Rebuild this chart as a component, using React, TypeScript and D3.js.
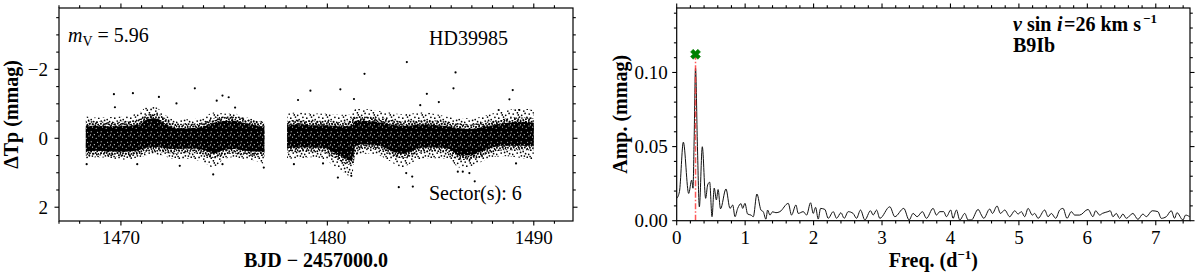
import React from 'react';
import * as d3 from 'd3';

// ---------- Light curve (left panel) ----------
// envelope of the dense point cloud, segment 1 (BJD-2457000)
const seg1T = [1468.3, 1468.8, 1469.5, 1470.2, 1470.9, 1471.3, 1471.7, 1472.1, 1472.6, 1473.3, 1474.0, 1474.5, 1475.0, 1475.5, 1476.0, 1476.5, 1476.95];
const coreUp1 = [-0.36, -0.36, -0.34, -0.36, -0.40, -0.56, -0.58, -0.44, -0.30, -0.29, -0.34, -0.45, -0.50, -0.50, -0.44, -0.38, -0.34];
const coreLo1 = [0.38, 0.36, 0.38, 0.39, 0.34, 0.27, 0.25, 0.29, 0.31, 0.30, 0.34, 0.44, 0.34, 0.31, 0.36, 0.38, 0.40];
const outerUp1 = [-0.65, -0.60, -0.62, -0.65, -0.75, -0.92, -0.90, -0.70, -0.55, -0.55, -0.62, -0.75, -0.72, -0.72, -0.62, -0.55, -0.48];
const outerLo1 = [0.60, 0.55, 0.58, 0.62, 0.55, 0.50, 0.48, 0.52, 0.60, 0.60, 0.70, 0.85, 0.60, 0.55, 0.60, 0.65, 0.75];

// segment 2
const seg2T = [1478.05, 1478.6, 1479.3, 1479.9, 1480.3, 1480.7, 1481.0, 1481.2, 1481.35, 1481.8, 1482.4, 1483.0, 1483.6, 1484.1, 1484.7, 1485.3, 1485.9, 1486.4, 1486.9, 1487.4, 1488.0, 1488.6, 1489.2, 1489.7, 1490.0];
const coreUp2 = [-0.38, -0.41, -0.38, -0.38, -0.36, -0.34, -0.36, -0.38, -0.50, -0.50, -0.47, -0.41, -0.36, -0.38, -0.41, -0.38, -0.34, -0.29, -0.27, -0.31, -0.38, -0.44, -0.47, -0.47, -0.45];
const coreLo2 = [0.29, 0.27, 0.27, 0.29, 0.40, 0.54, 0.63, 0.65, 0.22, 0.18, 0.20, 0.34, 0.45, 0.36, 0.27, 0.27, 0.31, 0.50, 0.50, 0.40, 0.27, 0.22, 0.22, 0.22, 0.22];
const outerUp2 = [-0.72, -0.75, -0.72, -0.72, -0.70, -0.68, -0.70, -0.72, -0.85, -0.85, -0.80, -0.75, -0.70, -0.72, -0.75, -0.70, -0.62, -0.58, -0.58, -0.62, -0.72, -0.80, -0.85, -0.85, -0.80];
const outerLo2 = [0.60, 0.58, 0.55, 0.62, 0.80, 0.95, 1.08, 1.10, 0.50, 0.45, 0.48, 0.65, 0.85, 0.70, 0.58, 0.58, 0.62, 0.85, 0.85, 0.70, 0.55, 0.52, 0.55, 0.60, 0.60];

// isolated points
const outT = [1469.66, 1469.71, 1470.58, 1471.84, 1472.69, 1473.58, 1474.64, 1474.92, 1475.22, 1475.53, 1474.47, 1474.92, 1468.34, 1472.85, 1470.79, 1476.92, 1478.38, 1483.85, 1481.80, 1486.21, 1486.11, 1480.63, 1479.18, 1484.82, 1488.98, 1488.82, 1481.29, 1478.58, 1485.40, 1484.50, 1488.30, 1489.30, 1483.46, 1484.14, 1487.14, 1480.51, 1481.16, 1484.11, 1483.82, 1486.56, 1486.32, 1486.88, 1479.79, 1489.14];
const outM = [-1.28, -0.90, -1.31, -1.20, -1.01, -1.45, -1.09, -1.24, -1.19, -0.89, 1.05, 0.75, 0.75, 0.80, 0.75, 0.85, 0.75, -2.21, -1.87, -1.91, -1.45, -1.42, -1.38, -1.29, -1.40, -1.13, -1.14, -1.11, -1.05, -0.96, -0.82, -0.82, 1.42, 1.40, 1.25, 1.14, 1.09, 1.11, 1.01, 0.97, 0.97, 1.01, 0.73, 0.73];

const lcXTicks = [1470, 1480, 1490];
const lcYTicks = [-2, 0, 2];

// ---------- Periodogram (right panel) ----------
const freq = [0.000, 0.040, 0.097, 0.175, 0.219, 0.238, 0.253, 0.275, 0.303, 0.331,
  0.374, 0.423, 0.452, 0.482, 0.516, 0.548, 0.580, 0.605, 0.640, 0.720,
  0.779, 0.818, 0.852, 0.891, 0.940, 0.964, 0.997, 1.036, 1.085, 1.119,
  1.172, 1.231, 1.265, 1.304, 1.328, 1.362, 1.401, 1.450, 1.508, 1.630,
  1.678, 1.742, 1.776, 1.849, 1.898, 1.956, 1.995, 2.029, 2.068, 2.102,
  2.165, 2.214, 2.287, 2.336, 2.400, 2.447, 2.506, 2.578, 2.627, 2.686,
  2.749, 2.832, 2.871, 2.920, 2.968, 3.114, 3.187, 3.318, 3.396, 3.454,
  3.513, 3.590, 3.649, 3.746, 3.795, 3.844, 3.902, 3.941, 4.004, 4.038,
  4.087, 4.136, 4.209, 4.258, 4.306, 4.404, 4.452, 4.486, 4.574, 4.613,
  4.681, 4.730, 4.793, 4.866, 4.939, 4.988, 5.036, 5.085, 5.134, 5.197,
  5.231, 5.280, 5.377, 5.426, 5.474, 5.538, 5.596, 5.645, 5.703, 5.766,
  5.815, 5.888, 6.010, 6.082, 6.121, 6.180, 6.219, 6.301, 6.335, 6.374,
  6.423, 6.471, 6.520, 6.569, 6.666, 6.739, 6.812, 6.861, 6.948, 7.031,
  7.080, 7.153, 7.226, 7.275, 7.309, 7.397, 7.436, 7.494];
const amp = [0.0150, 0.0196, 0.0530, 0.0184, 0.0274, 0.0219, 0.0500, 0.1030, 0.0500, 0.0094,
  0.0499, 0.0151, 0.0241, 0.0260, 0.0027, 0.0220, 0.0140, 0.0210, 0.0080, 0.0214,
  0.0083, 0.0106, 0.0027, 0.0083, 0.0115, 0.0083, 0.0117, 0.0045, 0.0038, 0.0027,
  0.0180, 0.0072, 0.0060, 0.0010, 0.0072, 0.0038, 0.0060, 0.0054, 0.0061, 0.0117,
  0.0038, 0.0106, 0.0049, 0.0061, 0.0038, 0.0121, 0.0049, 0.0090, 0.0011, 0.0083,
  0.0076, 0.0016, 0.0061, 0.0016, 0.0054, 0.0016, 0.0061, 0.0049, 0.0016, 0.0072,
  0.0005, 0.0067, 0.0038, 0.0072, 0.0016, 0.0094, 0.0027, 0.0083, 0.0005, 0.0049,
  0.0027, 0.0061, 0.0016, 0.0083, 0.0038, 0.0061, 0.0061, 0.0027, 0.0072, 0.0016,
  0.0072, 0.0005, 0.0049, 0.0005, 0.0005, 0.0076, 0.0038, 0.0016, 0.0079, 0.0049,
  0.0099, 0.0049, 0.0072, 0.0027, 0.0067, 0.0045, 0.0061, 0.0027, 0.0083, 0.0038,
  0.0049, 0.0016, 0.0072, 0.0027, 0.0049, 0.0016, 0.0072, 0.0083, 0.0016, 0.0061,
  0.0038, 0.0038, 0.0076, 0.0027, 0.0067, 0.0038, 0.0049, 0.0061, 0.0067, 0.0027,
  0.0049, 0.0016, 0.0045, 0.0016, 0.0049, 0.0009, 0.0045, 0.0027, 0.0067, 0.0061,
  0.0016, 0.0027, 0.0067, 0.0016, 0.0054, 0.0005, 0.0038, 0.0027];
const peakFreq = 0.275;
const peakMarkerAmp = 0.1123;
const pgXTicks = [0, 1, 2, 3, 4, 5, 6, 7];
const pgYTicks = [0, 0.05, 0.10];

const FONT = "'Liberation Serif', 'DejaVu Serif', serif";

// texture (style only): dot positions inside pattern tiles
const sparseDots = [[1.2, 2.1], [5.4, 0.8], [9.7, 3.3], [13.1, 1.4], [2.8, 6.2], [7.5, 5.1], [11.2, 7.6], [14.9, 5.3], [0.7, 10.4], [5.2, 9.1], [9.4, 11.8], [13.6, 9.7], [3.3, 14.2], [7.1, 13.4], [11.8, 15.1], [15.3, 13.2], [6.3, 2.9], [12.4, 12.1], [2.1, 12.5], [8.6, 8.4]];
const midDots = [[0.8, 0.9], [3.6, 1.7], [6.4, 0.6], [9.1, 2.0], [1.9, 3.8], [5.0, 4.2], [7.8, 3.5], [10.6, 4.6], [0.5, 6.3], [3.2, 6.9], [6.1, 6.5], [9.3, 7.2], [2.0, 9.3], [4.9, 9.8], [7.7, 9.0], [10.5, 9.9], [1.2, 11.2], [8.9, 11.3]];
const coreSpecks = [[1.2, 1.8], [4.3, 4.6], [7.6, 2.2], [2.6, 7.1], [6.2, 8.3], [8.9, 6.0], [0.4, 4.9]];

export default function App() {
  const W = 1200, H = 277;
  const L = { x0: 59, x1: 573, y0: 8, y1: 221 };
  const R = { x0: 676.7, x1: 1190, y0: 8, y1: 220.7 };

  const xL = d3.scaleLinear().domain([1467, 1491.9]).range([L.x0, L.x1]);
  const yL = d3.scaleLinear().domain([-3.78, 2.4]).range([L.y0, L.y1]);
  const xR = d3.scaleLinear().domain([0, 7.5]).range([R.x0, R.x1]);
  const yR = d3.scaleLinear().domain([0, 0.1435]).range([R.y1, R.y0]);

  const band = (T: number[], up: number[], lo: number[]) =>
    d3.area<number>()
      .x((_, i) => xL(T[i]))
      .y0((_, i) => yL(lo[i]))
      .y1((_, i) => yL(up[i]))
      .curve(d3.curveMonotoneX)(T) || '';

  const pgLine = d3.line<number>()
    .x((_, i) => xR(freq[i]))
    .y((_, i) => yR(amp[i]))
    .curve(d3.curveMonotoneX)(freq) || '';

  const majorLen = 4.5, minorLen = 2.8;
  const sw = 1.1;

  const lcXMinor = d3.range(1467, 1492, 1).filter(v => !lcXTicks.includes(v));
  const lcYMinor = d3.range(-3.5, 2.01, 0.5).filter(v => !lcYTicks.some(t => Math.abs(t - v) < 1e-6));
  const pgXMinor = d3.range(0, 7.51, 0.2).filter(v => !pgXTicks.some(t => Math.abs(t - v) < 1e-6));
  const pgYMinor = d3.range(0, 0.1435, 0.01).filter(v => !pgYTicks.some(t => Math.abs(t - v) < 1e-6));

  const frameTicks = (
    B: { x0: number; x1: number; y0: number; y1: number },
    xs: (v: number) => number, xMaj: number[], xMin: number[],
    ys: (v: number) => number, yMaj: number[], yMin: number[], key: string
  ) => {
    const out: any[] = [];
    const add = (v: number, len: number, k: string) => {
      const x = xs(v);
      out.push(<line key={`${key}b${k}`} x1={x} x2={x} y1={B.y1} y2={B.y1 + len} stroke="#000" strokeWidth={sw} />);
      out.push(<line key={`${key}t${k}`} x1={x} x2={x} y1={B.y0} y2={B.y0 - len} stroke="#000" strokeWidth={sw} />);
    };
    const addY = (v: number, len: number, k: string) => {
      const y = ys(v);
      out.push(<line key={`${key}l${k}`} x1={B.x0} x2={B.x0 - len} y1={y} y2={y} stroke="#000" strokeWidth={sw} />);
      out.push(<line key={`${key}r${k}`} x1={B.x1} x2={B.x1 + len} y1={y} y2={y} stroke="#000" strokeWidth={sw} />);
    };
    xMaj.forEach((v, i) => add(v, majorLen, 'M' + i));
    xMin.forEach((v, i) => add(v, minorLen, 'm' + i));
    yMaj.forEach((v, i) => addY(v, majorLen, 'M' + i));
    yMin.forEach((v, i) => addY(v, minorLen, 'm' + i));
    return out;
  };

  // X-shaped filled marker (plus rotated 45 deg)
  const a = 5.2, b = 1.9;
  const plusPts = [[b, a], [b, b], [a, b], [a, -b], [b, -b], [b, -a], [-b, -a], [-b, -b], [-a, -b], [-a, b], [-b, b], [-b, a]];
  const markerPath = 'M' + plusPts.map(p => p.join(',')).join('L') + 'Z';

  const core1 = band(seg1T, coreUp1, coreLo1);
  const core2 = band(seg2T, coreUp2, coreLo2);

  return (
    <svg width={W} height={H} style={{ position: 'absolute', left: 0, top: 0, background: '#fff' }} fontFamily={FONT}>
      <defs>
        <pattern id="sparseDots" width="16" height="16" patternUnits="userSpaceOnUse">
          {sparseDots.map((p, i) => <circle key={i} cx={p[0]} cy={p[1]} r={0.85} fill="#000" />)}
        </pattern>
        <pattern id="midDots" width="11" height="12" patternUnits="userSpaceOnUse">
          {midDots.map((p, i) => <circle key={i} cx={p[0]} cy={p[1]} r={0.95} fill="#000" />)}
        </pattern>
        <pattern id="coreDots" width="10" height="10" patternUnits="userSpaceOnUse">
          <rect width="10" height="10" fill="#000" />
          {coreSpecks.map((p, i) => <circle key={i} cx={p[0]} cy={p[1]} r={0.55} fill="#fff" />)}
        </pattern>
        <clipPath id="clipR"><rect x={R.x0} y={R.y0} width={R.x1 - R.x0} height={R.y1 - R.y0} /></clipPath>
        <clipPath id="clipL"><rect x={L.x0} y={L.y0} width={L.x1 - L.x0} height={L.y1 - L.y0} /></clipPath>
        <clipPath id="clipSeg1"><path d={band(seg1T, outerUp1, outerLo1)} /></clipPath>
        <clipPath id="clipSeg2"><path d={band(seg2T, outerUp2, outerLo2)} /></clipPath>
      </defs>

      {/* ---------- Left panel ---------- */}
      <g clipPath="url(#clipL)">
        <path d={band(seg1T, outerUp1, outerLo1)} fill="url(#sparseDots)" />
        <path d={band(seg2T, outerUp2, outerLo2)} fill="url(#sparseDots)" />
        <g clipPath="url(#clipSeg1)">
          <path d={core1} fill="none" stroke="url(#midDots)" strokeWidth={9} strokeLinejoin="round" />
        </g>
        <g clipPath="url(#clipSeg2)">
          <path d={core2} fill="none" stroke="url(#midDots)" strokeWidth={9} strokeLinejoin="round" />
        </g>
        <path d={core1} fill="url(#coreDots)" />
        <path d={core2} fill="url(#coreDots)" />
        {outT.map((t, i) => <circle key={i} cx={xL(t)} cy={yL(outM[i])} r={1.1} fill="#000" />)}
      </g>
      <rect x={L.x0} y={L.y0} width={L.x1 - L.x0} height={L.y1 - L.y0} fill="none" stroke="#000" strokeWidth={1.2} />
      {frameTicks(L, xL, lcXTicks, lcXMinor, yL, lcYTicks, lcYMinor, 'L')}
      {lcXTicks.map(v => (
        <text key={'lx' + v} x={xL(v)} y={244} textAnchor="middle" fontSize={19}>{v}</text>
      ))}
      {lcYTicks.map(v => (
        <text key={'ly' + v} x={L.x0 - 11} y={yL(v)} dy="0.35em" textAnchor="end" fontSize={19}>{v < 0 ? '\u2212' + Math.abs(v) : String(v)}</text>
      ))}
      <text x={(L.x0 + L.x1) / 2} y={267} textAnchor="middle" fontSize={20} fontWeight="bold">BJD − 2457000.0</text>
      <text transform={`translate(18,${(L.y0 + L.y1) / 2}) rotate(-90)`} textAnchor="middle" fontSize={20} fontWeight="bold">ΔTp (mmag)</text>
      <text x={68} y={42} fontSize={20}>
        <tspan fontStyle="italic">m</tspan><tspan fontSize={14} dy={4}>V</tspan><tspan dy={-4}> = 5.96</tspan>
      </text>
      <text x={429} y={45} fontSize={20}>HD39985</text>
      <text x={429} y={200} fontSize={20}>Sector(s): 6</text>

      {/* ---------- Right panel ---------- */}
      <g clipPath="url(#clipR)">
        <path d={pgLine} fill="none" stroke="#111" strokeWidth={1} />
        <line x1={xR(peakFreq)} x2={xR(peakFreq)} y1={yR(0)} y2={yR(peakMarkerAmp)} stroke="#ff3b3b" strokeOpacity={0.85} strokeWidth={1.5} strokeDasharray="6,2,1.5,2" />
      </g>
      <path d={markerPath} transform={`translate(${xR(peakFreq)},${yR(peakMarkerAmp)}) rotate(45)`} fill="#008000" stroke="#008000" strokeWidth={0.5} />
      <rect x={R.x0} y={R.y0} width={R.x1 - R.x0} height={R.y1 - R.y0} fill="none" stroke="#000" strokeWidth={1.2} />
      {frameTicks(R, xR, pgXTicks, pgXMinor, yR, pgYTicks, pgYMinor, 'R')}
      {pgXTicks.map(v => (
        <text key={'rx' + v} x={xR(v)} y={244} textAnchor="middle" fontSize={19}>{v}</text>
      ))}
      {pgYTicks.map(v => (
        <text key={'ry' + v} x={R.x0 - 9} y={yR(v)} dy="0.35em" textAnchor="end" fontSize={19}>{v.toFixed(2)}</text>
      ))}
      <text x={(R.x0 + R.x1) / 2} y={267} textAnchor="middle" fontSize={20} fontWeight="bold">
        <tspan>Freq. (d</tspan><tspan fontSize={13} dy={-8}>−1</tspan><tspan dy={8}>)</tspan>
      </text>
      <text transform={`translate(627,${(R.y0 + R.y1) / 2}) rotate(-90)`} textAnchor="middle" fontSize={20} fontWeight="bold">Amp. (mmag)</text>
      <g fontSize={20} fontWeight="bold">
        <text x={1013} y={31} fontStyle="italic">v</text>
        <text x={1027} y={31}>sin</text>
        <text x={1057} y={31} fontStyle="italic">i</text>
        <text x={1064} y={31}>=26 km s</text>
        <text x={1143} y={23} fontSize={13}>−1</text>
        <text x={1013} y={52}>B9Ib</text>
      </g>
    </svg>
  );
}
